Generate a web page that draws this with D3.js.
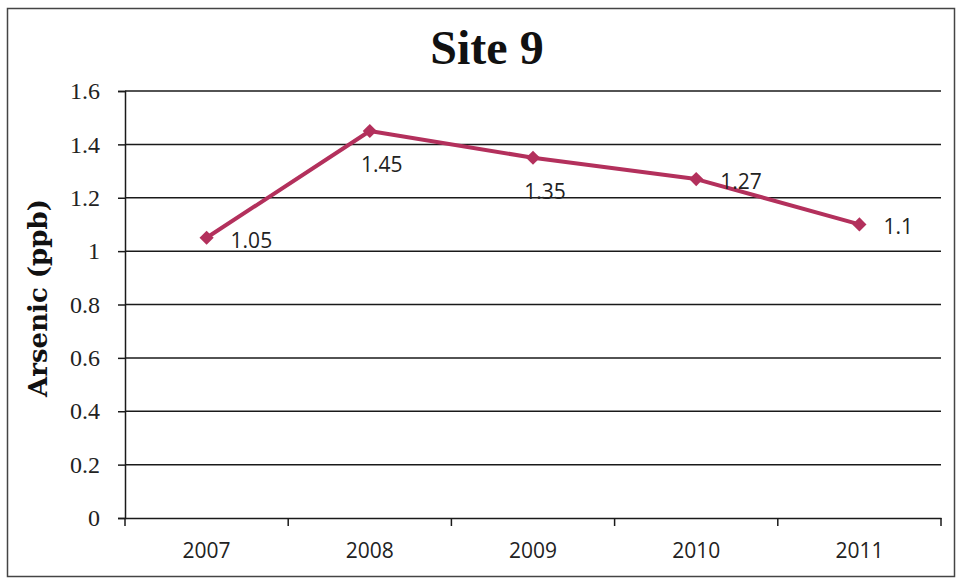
<!DOCTYPE html>
<html>
<head>
<meta charset="utf-8">
<script src="https://cdn.jsdelivr.net/npm/d3@7"></script>
<style>
html,body{margin:0;padding:0;background:#fff;}
svg{display:block;}
</style>
</head>
<body>
<svg id="chart" width="961" height="581"></svg>
<script>
const title = "Site 9";
const yAxisTitle = "Arsenic (ppb)";
const years = ["2007", "2008", "2009", "2010", "2011"];
const arsenic = [1.05, 1.45, 1.35, 1.27, 1.1];
const yTicks = [0, 0.2, 0.4, 0.6, 0.8, 1, 1.2, 1.4, 1.6];
const labelPlacement = ["right", "below", "below", "right", "right"];

const svg = d3.select("#chart");
const W = 961, H = 581;
const margin = {left: 125, right: 20, top: 91, bottom: 63};
const plotW = 941 - margin.left;
const plotH = 518 - margin.top;

svg.append("rect").attr("x", 0).attr("y", 0).attr("width", W).attr("height", H).attr("fill", "#fff");
// outer frame
svg.append("rect").attr("x", 7.5).attr("y", 8.5).attr("width", 947).attr("height", 568)
  .attr("fill", "none").attr("stroke", "#444").attr("stroke-width", 1.5);

const x = d3.scaleBand().domain(years).range([margin.left, margin.left + plotW]);
const y = d3.scaleLinear().domain([0, 1.6]).range([margin.top + plotH, margin.top]);

// title
svg.append("text").attr("x", 487).attr("y", 64).attr("text-anchor", "middle")
  .attr("font-family", "Liberation Serif, DejaVu Serif, serif").attr("font-weight", "bold")
  .attr("font-size", 48).attr("fill", "#111").text(title);

// gridlines
svg.append("g").selectAll("line").data(yTicks.filter(d => d > 0)).join("line")
  .attr("x1", margin.left).attr("x2", margin.left + plotW)
  .attr("y1", d => y(d)).attr("y2", d => y(d))
  .attr("stroke", "#1a1a1a").attr("stroke-width", 1.5);

// y axis
const yAxis = svg.append("g").attr("transform", `translate(${margin.left},0)`)
  .call(d3.axisLeft(y).tickValues(yTicks).tickFormat(d => d3.format("")(d)).tickSize(7).tickPadding(18));
yAxis.select(".domain").attr("stroke", "#1a1a1a").attr("stroke-width", 1.5);
yAxis.selectAll(".tick line").attr("stroke", "#1a1a1a").attr("stroke-width", 1.5);
yAxis.selectAll("text").attr("font-family", "Liberation Serif, DejaVu Serif, serif")
  .attr("font-size", 24).attr("fill", "#222");

// x axis
const xAxis = svg.append("g").attr("transform", `translate(0,${margin.top + plotH})`)
  .call(d3.axisBottom(x).tickSize(0).tickPadding(25));
xAxis.select(".domain").attr("stroke", "#1a1a1a").attr("stroke-width", 1.5);
xAxis.selectAll("text").attr("font-family", "Open Sans, Liberation Sans, sans-serif")
  .attr("font-size", 21).attr("fill", "#222");
// category boundary ticks
const bounds = years.map(d => x(d)).concat([x(years[years.length - 1]) + x.bandwidth()]);
xAxis.selectAll(".bound").data(bounds).join("line").attr("class", "bound")
  .attr("x1", d => d).attr("x2", d => d).attr("y1", 0).attr("y2", 8)
  .attr("stroke", "#1a1a1a").attr("stroke-width", 1.5);

// y axis title
svg.append("text").attr("transform", `translate(47,298) rotate(-90)`).attr("text-anchor", "middle")
  .attr("font-family", "DejaVu Serif, Liberation Serif, serif").attr("font-weight", "bold")
  .attr("font-size", 26).attr("fill", "#111").text(yAxisTitle);

// line
const cx = (d, i) => x(years[i]) + x.bandwidth() / 2;
const lineColor = "#b3305c";
svg.append("path").datum(arsenic)
  .attr("d", d3.line().x((d, i) => cx(d, i)).y(d => y(d)))
  .attr("fill", "none").attr("stroke", lineColor).attr("stroke-width", 4).attr("stroke-linejoin", "round");

svg.append("g").selectAll("path").data(arsenic).join("path")
  .attr("transform", (d, i) => `translate(${cx(d, i)},${y(d)}) rotate(45)`)
  .attr("d", "M-5,-5H5V5H-5Z").attr("fill", lineColor);

// data labels
svg.append("g").selectAll("text").data(arsenic).join("text")
  .attr("x", (d, i) => labelPlacement[i] === "right" ? cx(d, i) + 24 : cx(d, i) + 12)
  .attr("y", (d, i) => labelPlacement[i] === "right" ? y(d) + 10 : y(d) + 41)
  .attr("text-anchor", (d, i) => labelPlacement[i] === "right" ? "start" : "middle")
  .attr("font-family", "Open Sans, Liberation Sans, sans-serif")
  .attr("font-size", 21).attr("fill", "#222").text(d => d);
</script>
</body>
</html>
